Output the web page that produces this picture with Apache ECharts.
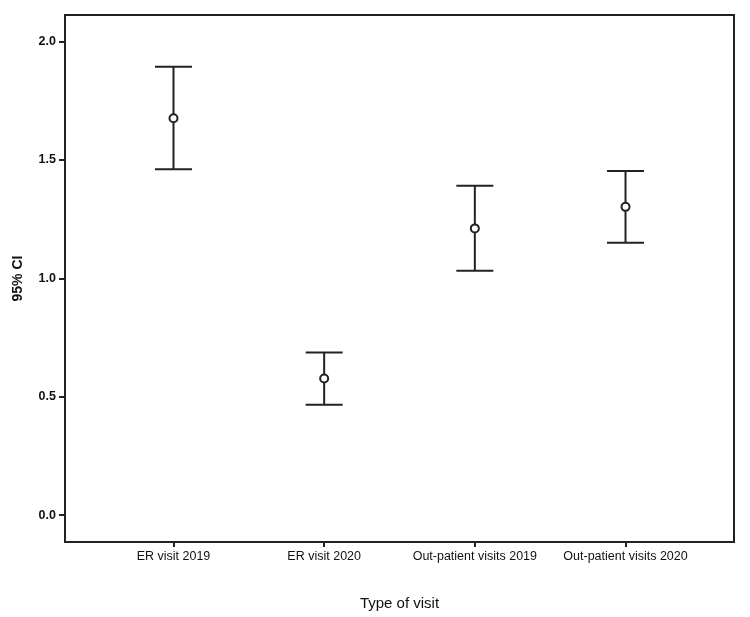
<!DOCTYPE html>
<html>
<head>
<meta charset="utf-8">
<script src="https://cdn.jsdelivr.net/npm/echarts@6/dist/echarts.min.js"></script>
<style>
html, body { margin: 0; padding: 0; background: #fff; }
#chart { width: 750px; height: 617px; }
</style>
</head>
<body>
<div id="chart"></div>
<script>
// visit types and their 95% CI
const categories = ['ER visit 2019', 'ER visit 2020', 'Out-patient visits 2019', 'Out-patient visits 2020'];
const means = [1.676, 0.577, 1.211, 1.302];
const lower = [1.461, 0.466, 1.032, 1.150];
const upper = [1.894, 0.687, 1.391, 1.453];
const yTicks = [0, 0.5, 1.0, 1.5, 2.0];

const ink = '#222';
const myEcharts = echarts.init(document.getElementById('chart'));

// each row: x position, low, high, mean
const rows = categories.map((c, i) => [i, lower[i], upper[i], means[i]]);

const renderBar = (params, api) => {
    const x = api.value(0);
    const lo = api.coord([x, api.value(1)]);
    const hi = api.coord([x, api.value(2)]);
    const mid = api.coord([x, api.value(3)]);
    const half = 18.5;
    const lineStyle = { stroke: ink, lineWidth: 2 };
    return {
        type: 'group',
        children: [
            { type: 'line', shape: { x1: lo[0], y1: lo[1], x2: hi[0], y2: hi[1] }, style: lineStyle },
            { type: 'line', shape: { x1: hi[0] - half, y1: hi[1], x2: hi[0] + half, y2: hi[1] }, style: lineStyle },
            { type: 'line', shape: { x1: lo[0] - half, y1: lo[1], x2: lo[0] + half, y2: lo[1] }, style: lineStyle },
            { type: 'circle', shape: { cx: mid[0], cy: mid[1], r: 4 }, style: { fill: '#fff', stroke: ink, lineWidth: 2 } },
        ],
    };
};

const options = {
    animation: false,
    textStyle: { fontFamily: 'Liberation Sans, Arial, sans-serif' },
    grid: {
        left: 65,
        right: 16,
        top: 15,
        bottom: 75,
        show: true,
        borderColor: ink,
        borderWidth: 2,
    },
    xAxis: {
        type: 'value',
        min: -0.72,
        max: 3.72,
        name: 'Type of visit',
        nameLocation: 'middle',
        nameGap: 54,
        nameTextStyle: { fontSize: 15, color: '#111' },
        splitLine: { show: false },
        axisLine: { onZero: false, lineStyle: { color: ink, width: 2 } },
        axisTick: { customValues: [0, 1, 2, 3], length: 5, lineStyle: { color: ink, width: 2 } },
        axisLabel: {
            customValues: [0, 1, 2, 3],
            formatter: v => categories[Math.round(v)] || '',
            fontSize: 12.5,
            color: '#111',
            margin: 8,
        },
    },
    yAxis: {
        type: 'value',
        min: -0.113,
        max: 2.112,
        name: '95% CI',
        nameLocation: 'middle',
        nameGap: 40,
        nameTextStyle: { fontSize: 14, fontWeight: 'bold', color: '#111' },
        splitLine: { show: false },
        axisLine: { show: true, onZero: false, lineStyle: { color: ink, width: 2 } },
        axisTick: { customValues: yTicks, length: 6, lineStyle: { color: ink, width: 2 } },
        axisLabel: {
            customValues: yTicks,
            formatter: v => v.toFixed(1),
            fontSize: 12.5,
            fontWeight: 'bold',
            color: '#111',
            margin: 9,
        },
    },
    series: [
        {
            type: 'custom',
            renderItem: renderBar,
            encode: { x: 0, y: [1, 2, 3] },
            data: rows,
        },
    ],
};

myEcharts.setOption(options);
</script>
</body>
</html>
